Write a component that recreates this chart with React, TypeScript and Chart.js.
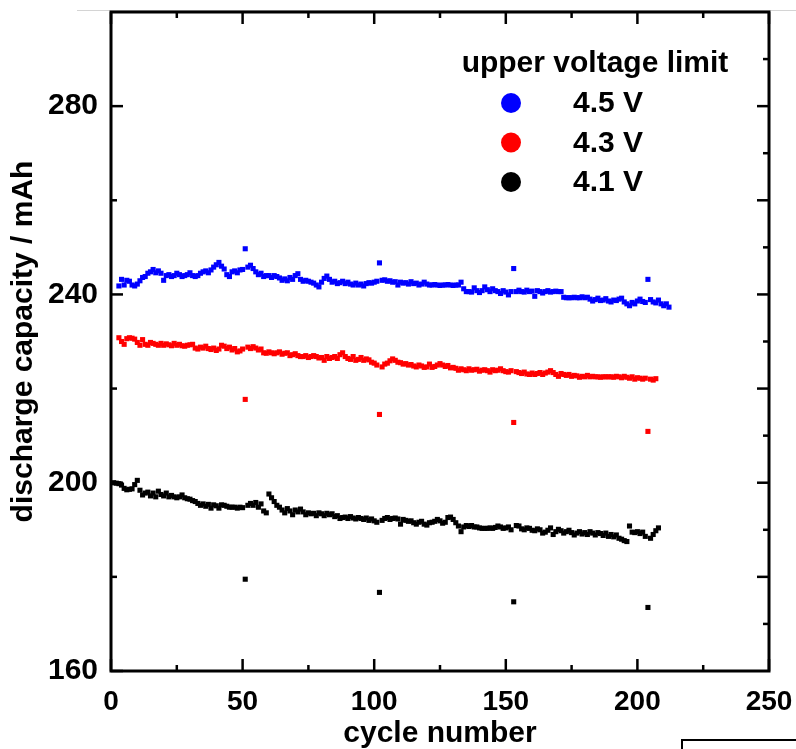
import React, { useEffect, useRef } from "react";
import { Chart, registerables } from "chart.js";

Chart.register(...registerables);

// ---- data ----
const BLUE_START_CYCLE = 3;
const BLUE_45V = [
  241.8, 243.2, 242.0, 243.0, 242.8, 242.0, 241.8, 242.2, 242.9, 243.6,
  243.8, 244.5, 244.8, 245.3, 244.6, 245.0, 244.5, 243.0, 244.0, 244.2,
  243.8, 244.0, 244.5, 244.2, 243.8, 244.0, 244.2, 244.6, 244.0, 243.8,
  244.0, 244.5, 244.8, 245.0, 244.6, 245.2, 245.8, 246.3, 246.8, 246.0,
  245.4, 244.2, 243.8, 244.8, 245.0, 244.6, 245.2, 245.3, 249.7, 245.8,
  246.2, 245.5, 244.8, 244.2, 244.5, 243.8, 244.0, 244.0, 243.6, 244.0,
  243.8, 243.5, 243.0, 243.3, 242.9, 243.6, 243.2, 244.0, 244.4, 243.2,
  242.8, 243.0, 242.8, 242.6, 242.4, 242.0, 241.6, 242.6, 243.4, 243.9,
  243.2, 242.6, 242.8, 242.3, 242.5, 242.8, 242.3, 242.6, 242.2, 242.0,
  242.4, 242.0, 242.2, 241.8, 242.3, 242.5, 242.4, 242.6, 242.8, 246.7,
  243.0, 243.1, 242.8, 242.9, 242.6, 242.7, 242.0, 242.6, 242.4, 242.5,
  242.2, 242.7, 242.3, 242.4, 242.0, 242.2, 242.6, 242.2, 242.0, 242.0,
  242.1, 242.0, 241.9, 242.0, 242.0, 242.1, 242.0, 241.9, 242.0, 242.0,
  242.6, 241.2, 240.6, 240.6, 240.5, 241.4, 240.8, 240.4, 240.8, 241.6,
  241.0, 240.6, 241.2, 240.8, 240.6, 240.2, 240.8, 240.5, 239.9, 240.6,
  245.5, 240.6, 240.9, 240.6, 240.5, 240.9, 240.6, 240.7, 239.6, 240.8,
  240.6, 240.3, 240.6, 240.8, 240.5, 240.6, 240.7, 240.6, 240.6, 239.4,
  239.3, 239.3, 239.3, 239.4, 239.3, 239.3, 239.5, 239.3, 239.4, 239.0,
  238.6, 238.9, 239.2, 238.7, 238.8, 239.1, 238.6, 238.4, 238.8, 238.7,
  239.0, 239.2, 238.4, 238.0, 237.6, 238.3, 238.0, 238.6, 239.0, 238.5,
  238.3, 243.2, 238.9, 238.4, 238.2, 238.8, 238.0, 237.6, 238.0, 237.3,
];

const RED_START_CYCLE = 3;
const RED_43V = [
  230.8, 230.0, 229.4, 230.6, 230.8, 230.7, 230.5, 229.8, 229.2, 230.4,
  229.4, 229.2, 229.8, 229.6, 229.4, 229.2, 229.6, 229.2, 229.5, 229.3,
  229.1, 229.6, 229.2, 229.4, 229.1, 229.0, 229.2, 229.3, 229.4, 228.6,
  228.4, 228.8, 228.6, 229.0, 228.5, 228.3, 228.6, 228.1, 228.4, 229.2,
  229.0, 228.5, 228.8, 228.2, 228.5, 227.8, 228.0, 228.4, 217.7, 228.8,
  228.5, 228.9, 228.6, 228.2, 228.4, 227.6, 227.5, 227.8, 227.6, 227.4,
  227.6, 227.8, 227.3, 227.5, 227.6, 227.0, 227.2, 227.4, 227.0, 226.8,
  226.8, 227.0, 226.6, 226.8, 227.0, 226.8, 226.5, 226.6, 226.0, 226.8,
  226.4, 226.6, 226.8, 226.4, 227.2, 227.6, 226.8, 226.4, 226.2, 226.8,
  226.0, 226.2, 226.6, 226.0, 226.3, 226.1, 225.6, 225.4, 225.0, 214.5,
  224.6, 225.2, 225.4, 225.9, 226.3, 226.0, 225.6, 225.5, 225.2, 225.3,
  225.0, 225.1, 224.8, 224.6, 225.0, 224.8, 224.5, 224.6, 225.2, 224.5,
  224.7, 225.0, 225.3, 225.0, 224.7, 224.9, 224.4, 224.5, 224.3, 223.9,
  224.2, 224.0, 223.8, 224.2, 223.9, 224.0, 224.1, 223.7, 223.9, 224.0,
  223.8, 223.5, 224.0, 223.8, 223.9, 224.2, 223.8, 223.6, 223.5, 223.8,
  212.8, 223.6, 223.4, 223.2, 223.5, 223.1, 223.0, 223.3, 223.0, 223.2,
  223.4, 223.0, 223.3, 223.5, 223.8, 223.4, 223.0, 222.6, 223.2, 223.0,
  222.8, 223.0, 222.6, 222.8, 222.7, 222.4, 222.6, 222.5, 222.8, 222.5,
  222.6, 222.5, 222.5, 222.4, 222.5, 222.5, 222.5, 222.5, 222.4, 222.6,
  222.5, 222.3, 222.6, 222.4, 222.2, 222.5, 222.0, 222.3, 222.2, 222.0,
  222.2, 210.9, 222.0, 221.8, 222.1,
];

const BLACK_START_CYCLE = 1;
const BLACK_41V = [
  200.0, 199.9, 199.8, 199.5, 198.8, 198.5, 198.6, 198.7, 199.6, 200.5,
  198.4, 197.4, 197.8, 198.0, 197.2, 197.8, 197.0, 198.2, 197.5, 197.2,
  197.8, 197.0, 197.3, 197.0, 196.8, 197.0, 197.4, 196.8, 196.6, 196.5,
  196.2, 196.0, 195.6, 195.2, 195.5, 195.0, 195.4, 194.6, 195.3, 195.1,
  194.6, 195.3, 195.2, 195.0, 194.8, 194.8, 194.8, 194.6, 194.8, 194.7,
  179.5, 195.2, 195.6, 195.2, 195.8, 194.8, 195.5, 194.0, 193.6, 197.6,
  196.8, 196.0, 195.2, 194.8, 194.2, 193.6, 194.5, 194.0, 193.2, 194.2,
  193.8, 194.4, 193.8, 193.2, 193.6, 193.4, 193.5, 193.0, 193.6, 193.4,
  193.0, 193.5, 193.2, 193.4, 192.8, 193.0, 192.4, 192.6, 192.7, 192.4,
  192.8, 192.5, 192.3, 192.6, 192.4, 192.2, 192.5, 192.0, 192.3, 191.9,
  191.6, 176.7, 192.0, 192.4, 192.6, 192.2, 192.4, 192.5, 192.3, 191.2,
  192.2, 192.0, 191.8, 191.9, 191.5, 191.2, 191.6, 191.8, 191.2, 191.0,
  191.5, 191.6, 191.8, 192.2, 191.9, 191.4, 191.6, 192.6, 192.7, 192.2,
  191.5, 190.8, 189.6, 190.6, 190.9, 190.7, 190.9, 190.6, 190.6, 190.4,
  190.3, 190.3, 190.3, 190.4, 190.3, 190.5, 190.8, 190.6, 190.3, 190.4,
  190.6, 190.0, 174.7, 190.9, 190.8, 190.2, 190.0, 190.4, 190.3, 189.9,
  189.8, 190.2, 190.0, 189.3, 189.5, 189.9, 190.4, 189.0, 189.6, 190.1,
  189.8, 189.3, 189.6, 189.9, 189.4, 188.9, 189.3, 189.6, 189.1, 189.4,
  189.0, 189.6, 189.3, 188.9, 189.4, 189.2, 188.8, 189.3, 188.6, 189.0,
  188.5, 188.9, 188.2, 188.0, 187.7, 187.5, 190.8, 189.5, 189.4, 189.6,
  189.2, 189.5, 188.6, 173.5, 188.2, 189.0, 189.8, 190.4,
];

const SERIES_LABELS = ["4.5 V", "4.3 V", "4.1 V"];
const SERIES_COLORS = ["#0000ff", "#ff0000", "#000000"];
const LEGEND_TITLE = "upper voltage limit";
const X_TITLE = "cycle number";
const Y_TITLE = "discharge capacity / mAh";

const X_MIN = 0;
const X_MAX = 250;
const Y_MIN = 160;
const Y_MAX = 300;
const X_MAJOR_TICKS = [0, 50, 100, 150, 200, 250];
const X_MINOR_TICKS = [25, 75, 125, 175, 225];
const Y_MAJOR_TICKS = [160, 200, 240, 280];
const Y_MINOR_TICKS = [180, 220, 260];
const Y_RIGHT_MAJOR_TICKS = [180, 200, 220, 240, 260, 280];
const Y_RIGHT_MINOR_TICKS = [170, 190, 210, 230, 250, 270, 290];

const FONT = "'Liberation Sans', Arial, Helvetica, sans-serif";

function toPoints(start: number, values: number[]) {
  return values.map((v, i) => ({ x: start + i, y: v }));
}

const framePlugin = {
  id: "frameAndTicks",
  beforeDraw(chart: any) {
    const { ctx } = chart;
    ctx.save();
    ctx.strokeStyle = "#d4d4d4";
    ctx.lineWidth = 1;
    ctx.beginPath();
    ctx.moveTo(77, 10.5);
    ctx.lineTo(chart.width, 10.5);
    ctx.stroke();
    ctx.restore();
  },
  afterDraw(chart: any) {
    const { ctx, chartArea: a, scales } = chart;
    const xs = scales.x;
    const ys = scales.y;
    ctx.save();
    ctx.strokeStyle = "#000";
    ctx.lineWidth = 2.5;
    ctx.lineCap = "butt";
    const line = (x1: number, y1: number, x2: number, y2: number) => {
      ctx.beginPath();
      ctx.moveTo(x1, y1);
      ctx.lineTo(x2, y2);
      ctx.stroke();
    };
    const MAJ = 12;
    const MIN = 6;
    X_MAJOR_TICKS.forEach((v) => {
      const p = xs.getPixelForValue(v);
      line(p, a.bottom, p, a.bottom - MAJ);
      line(p, a.top, p, a.top + MAJ);
    });
    X_MINOR_TICKS.forEach((v) => {
      const p = xs.getPixelForValue(v);
      line(p, a.bottom, p, a.bottom - MIN);
      line(p, a.top, p, a.top + MIN);
    });
    Y_MAJOR_TICKS.forEach((v) => {
      const p = ys.getPixelForValue(v);
      line(a.left, p, a.left + MAJ, p);
    });
    Y_MINOR_TICKS.forEach((v) => {
      const p = ys.getPixelForValue(v);
      line(a.left, p, a.left + MIN, p);
    });
    Y_RIGHT_MAJOR_TICKS.forEach((v) => {
      const p = ys.getPixelForValue(v);
      line(a.right, p, a.right - MAJ, p);
    });
    Y_RIGHT_MINOR_TICKS.forEach((v) => {
      const p = ys.getPixelForValue(v);
      line(a.right, p, a.right - MIN, p);
    });
    ctx.lineWidth = 3;
    ctx.strokeRect(a.left, a.top, a.right - a.left, a.bottom - a.top);

    // legend
    const ds = chart.data.datasets;
    ctx.fillStyle = "#000";
    ctx.font = `bold 30px ${FONT}`;
    ctx.textAlign = "center";
    ctx.textBaseline = "middle";
    const titleX = a.right - 174;
    ctx.fillText(LEGEND_TITLE, titleX, a.top + 52);
    ds.forEach((d: any, i: number) => {
      const cy = a.top + 91 + i * 39.5;
      ctx.beginPath();
      ctx.fillStyle = d.backgroundColor;
      ctx.arc(a.right - 258, cy, 10, 0, Math.PI * 2);
      ctx.fill();
      ctx.fillStyle = "#000";
      ctx.textAlign = "left";
      ctx.fillText(d.label, a.right - 196, cy + 1);
    });
    ctx.restore();
  },
};

export default function App() {
  const canvasRef = useRef<HTMLCanvasElement | null>(null);

  useEffect(() => {
    const canvas = canvasRef.current;
    if (!canvas) return;
    const chart = new Chart(canvas, {
      type: "scatter",
      data: {
        datasets: [
          { label: SERIES_LABELS[0], data: toPoints(BLUE_START_CYCLE, BLUE_45V), backgroundColor: SERIES_COLORS[0] },
          { label: SERIES_LABELS[1], data: toPoints(RED_START_CYCLE, RED_43V), backgroundColor: SERIES_COLORS[1] },
          { label: SERIES_LABELS[2], data: toPoints(BLACK_START_CYCLE, BLACK_41V), backgroundColor: SERIES_COLORS[2] },
        ].map((d) => ({
          ...d,
          borderColor: d.backgroundColor,
          borderWidth: 0,
          pointStyle: "rect",
          pointRadius: 3.6,
          pointHoverRadius: 3.6,
          showLine: false,
        })),
      },
      options: {
        animation: false,
        responsive: false,
        devicePixelRatio: 1,
        layout: { padding: { top: 12, right: 27, left: 0, bottom: 0 } },
        plugins: { legend: { display: false }, tooltip: { enabled: false }, title: { display: false } },
        scales: {
          x: {
            type: "linear",
            min: X_MIN,
            max: X_MAX,
            afterBuildTicks: (s: any) => {
              s.ticks = X_MAJOR_TICKS.map((v) => ({ value: v }));
            },
            afterFit: (s: any) => {
              s.height = 78;
              s.paddingLeft = 0;
              s.paddingRight = 0;
            },
            grid: { display: false, drawTicks: false },
            border: { display: false },
            ticks: {
              color: "#000",
              font: { family: FONT, size: 28, weight: "bold" },
              padding: 14,
              maxRotation: 0,
              autoSkip: false,
            },
            title: {
              display: true,
              text: X_TITLE,
              color: "#000",
              font: { family: FONT, size: 30, weight: "bold", lineHeight: 1 },
              padding: { top: 0, bottom: 0 },
            },
          },
          y: {
            type: "linear",
            min: Y_MIN,
            max: Y_MAX,
            afterBuildTicks: (s: any) => {
              s.ticks = Y_MAJOR_TICKS.map((v) => ({ value: v }));
            },
            afterFit: (s: any) => {
              s.width = 111;
              s.paddingTop = 0;
              s.paddingBottom = 0;
            },
            grid: { display: false, drawTicks: false },
            border: { display: false },
            ticks: {
              color: "#000",
              font: { family: FONT, size: 30, weight: "bold" },
              padding: 13,
              autoSkip: false,
            },
            title: {
              display: true,
              text: Y_TITLE,
              color: "#000",
              font: { family: FONT, size: 30, weight: "bold", lineHeight: 1 },
              padding: { top: 9, bottom: 0 },
            },
          },
        },
      },
      plugins: [framePlugin],
    } as any);
    return () => chart.destroy();
  }, []);

  return (
    <div style={{ position: "absolute", left: 0, top: 0, width: 796, height: 749, overflow: "hidden", background: "#fff" }}>
      <canvas ref={canvasRef} width={796} height={749} style={{ display: "block" }} />
      <div
        style={{
          position: "absolute",
          left: 681,
          top: 739,
          width: 140,
          height: 30,
          border: "2px solid #000",
          boxSizing: "border-box",
        }}
      />
    </div>
  );
}
